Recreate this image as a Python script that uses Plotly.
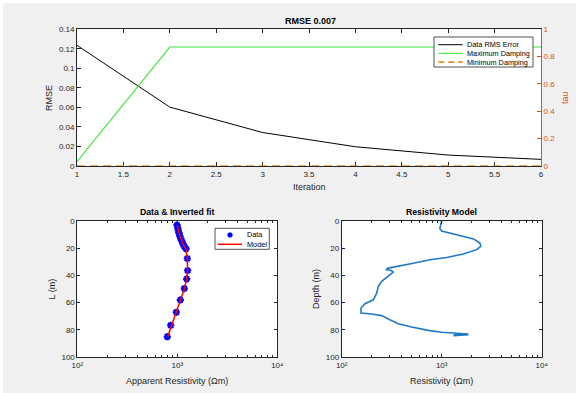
import plotly.graph_objects as go

W, H = 578, 393

# ---------------- data ----------------
iteration = [1, 2, 3, 4, 5, 6]
rmse = [0.1236, 0.0603, 0.0343, 0.0197, 0.0112, 0.0068]
max_damping = [0.032, 0.870, 0.870, 0.870, 0.870, 0.870]
min_damping = [0, 0, 0, 0, 0, 0]

L_data = [3.2, 5.1, 7.1, 9.0, 11.0, 13.0, 14.9, 16.9, 18.9, 20.6,
          27.7, 36.5, 42.6, 49.7, 58.0, 67.1, 76.6, 84.9]
rho_data = [993, 1010, 1023, 1040, 1057, 1081, 1107, 1140, 1175, 1222,
            1259, 1270, 1242, 1175, 1072, 977, 859, 794]
rho_fit = [996, 1008, 1025, 1042, 1060, 1083, 1108, 1138, 1172, 1215,
           1262, 1265, 1240, 1180, 1075, 980, 865, 800]

depth_model = [0, 5.6, 7.5, 10.4, 13.3, 16.4, 18.8, 21.2, 24.4, 26.9, 28.6,
               31.1, 33.5, 34.7, 35.9, 36.3, 37.6, 40.8, 44.4, 48.1, 53.0,
               57.9, 60.8, 63.9, 67.6, 68.3, 69.5, 72.0, 75.4, 77.8, 80.3,
               81.7, 82.2, 82.9, 83.2, 83.5, 84.2]
rho_model = [1000, 958, 1000, 1413, 2080, 2410, 2455, 2239, 1644, 1122, 764,
             520, 355, 292, 277, 310, 328, 292, 251, 232, 224,
             207, 171, 156, 156, 199, 251, 292, 368, 501, 733,
             1000, 1349, 1847, 1320, 1850, 1306]

log_ticks = [100, 1000, 10000]
log_tick_text = ["10\u00b2", "10\u00b3", "10\u2074"]
log_minor = [m * d for d in (100, 1000) for m in range(2, 10)]

# ---------------- helpers ----------------
def fx(px):
    return px / W

def fy(py):
    return 1 - py / H

FONT = "Liberation Sans, Arial, Helvetica, DejaVu Sans, sans-serif"
AX = "#262626"
ORANGE_AX = "#D95319"
GREEN = "#3de83d"
ORANGE_LN = "#EE8A2A"
BLUE = "#0000FF"
MBLUE = "#1f78c8"

fig = go.Figure()

# top panel
fig.add_trace(go.Scatter(x=iteration, y=rmse, xaxis="x", yaxis="y", mode="lines",
                         line=dict(color="black", width=1), showlegend=False))
fig.add_trace(go.Scatter(x=iteration, y=max_damping, xaxis="x", yaxis="y2", mode="lines",
                         line=dict(color=GREEN, width=1.1), showlegend=False))
fig.add_trace(go.Scatter(x=iteration, y=min_damping, xaxis="x", yaxis="y2", mode="lines",
                         cliponaxis=False,
                         line=dict(color=ORANGE_LN, width=1.6, dash="8px,5px"), showlegend=False))

# bottom-left
fig.add_trace(go.Scatter(x=rho_data, y=L_data, xaxis="x3", yaxis="y3", mode="markers",
                         marker=dict(symbol="asterisk-open", size=6, color=BLUE,
                                     line=dict(color=BLUE, width=2)), showlegend=False))
fig.add_trace(go.Scatter(x=rho_fit, y=L_data, xaxis="x3", yaxis="y3", mode="lines",
                         line=dict(color="#ff0000", width=1.5), showlegend=False))

# bottom-right
fig.add_trace(go.Scatter(x=rho_model, y=depth_model, xaxis="x4", yaxis="y4", mode="lines",
                         line=dict(color=MBLUE, width=1.6), showlegend=False))

tickfont = dict(family=FONT, size=8, color=AX)
common = dict(showgrid=False, zeroline=False, showline=True, linecolor=AX, linewidth=0.8,
              ticks="inside", ticklen=4, tickcolor=AX, tickwidth=0.8, tickfont=tickfont,
              automargin=False)

log_common = dict(common, type="log", range=[2, 4], tickmode="array", tickvals=log_ticks,
                  ticktext=log_tick_text, mirror="allticks", ticklen=3,
                  minor=dict(ticks="inside", ticklen=2, tickcolor=AX, tickwidth=0.6,
                             tickmode="array", tickvals=log_minor, showgrid=False))

depth_common = dict(common, range=[100, 0], tickmode="linear", tick0=0, dtick=20,
                    mirror="allticks", ticklen=3)

fig.update_layout(
    width=W, height=H,
    margin=dict(l=0, r=0, t=0, b=0, pad=0, autoexpand=False),
    paper_bgcolor="#f0f0f0",
    plot_bgcolor="white",
    font=dict(family=FONT, size=8, color=AX),
    showlegend=False,
    xaxis=dict(common, domain=[fx(77), fx(541)], anchor="y", range=[1, 6],
               tickmode="linear", tick0=1, dtick=0.5, mirror="ticks", layer="below traces"),
    yaxis=dict(common, domain=[fy(166), fy(29.3)], anchor="x", range=[0, 0.14],
               tickmode="linear", tick0=0, dtick=0.02),
    yaxis2=dict(common, overlaying="y", side="right", anchor="x", range=[0, 1],
                tickmode="linear", tick0=0, dtick=0.2, linecolor=ORANGE_AX,
                tickcolor=ORANGE_AX, tickfont=dict(family=FONT, size=8, color=ORANGE_AX)),
    xaxis3=dict(log_common, domain=[fx(77.3), fx(277.3)], anchor="y3"),
    yaxis3=dict(depth_common, domain=[fy(357.3), fy(220.7)], anchor="x3"),
    xaxis4=dict(log_common, domain=[fx(341.7), fx(541.7)], anchor="y4"),
    yaxis4=dict(depth_common, domain=[fy(357.3), fy(220.7)], anchor="x4"),
)

ann = []
def text(s, px, py, size=9, bold=False, color=AX, angle=0, xanchor="center"):
    if bold:
        s = "<b>" + s + "</b>"
    ann.append(dict(text=s, x=fx(px), y=fy(py), xref="paper", yref="paper",
                    showarrow=False, xanchor=xanchor, yanchor="middle", textangle=angle,
                    font=dict(family=FONT, size=size, color=color)))

# titles / labels
text("RMSE 0.007", 310, 21, size=9, bold=True, color="black")
text("Iteration", 309, 186.5, size=9)
text("RMSE", 49, 98, size=9, angle=-90)
text("tau", 565, 98, size=9, angle=-90, color=ORANGE_AX)

text("Data &amp; Inverted fit", 177.3, 212.3, size=8.7, bold=True, color="black")
text("Apparent Resistivity (\u03a9m)", 177, 380.7, size=9)
text("L (m)", 51.5, 289, size=9, angle=-90)

text("Resistivity Model", 441.7, 212.3, size=8.7, bold=True, color="black")
text("Resistivity (\u03a9m)", 441, 380.7, size=9)
text("Depth (m)", 316, 289, size=9, angle=-90)

shapes = []
# thin white frame around the grey panel
for x0, y0, x1, y1 in [(0, 0, 3, H), (0, 0, W, 3), (576, 0, W, H)]:
    shapes.append(dict(type="rect", xref="paper", yref="paper", x0=fx(x0), x1=fx(x1),
                       y0=fy(y1), y1=fy(y0), fillcolor="white", line=dict(width=0)))

# top legend
shapes.append(dict(type="rect", xref="paper", yref="paper", x0=fx(434), x1=fx(533),
                   y0=fy(67), y1=fy(37), fillcolor="white", line=dict(color=AX, width=0.8)))
leg_rows = [("Data RMS Error", "black", None, 1), ("Maximum Damping", GREEN, None, 1.1),
            ("Minimum Damping", ORANGE_LN, "6px,4px", 1.6)]
for i, (lab, col, dash, wd) in enumerate(leg_rows):
    yy = 44.7 + i * 8.7
    ln = dict(color=col, width=wd)
    if dash:
        ln["dash"] = dash
    shapes.append(dict(type="line", xref="paper", yref="paper", x0=fx(438.3), x1=fx(462.7),
                       y0=fy(yy), y1=fy(yy), line=ln))
    text(lab, 465, yy, size=7.3, xanchor="left", color="black")

# bottom-left legend
shapes.append(dict(type="rect", xref="paper", yref="paper", x0=fx(215), x1=fx(269.3),
                   y0=fy(249.3), y1=fy(228.3), fillcolor="white", line=dict(color=AX, width=0.8)))
cx, cy, r = 230, 235, 2.6
path = (f"M {fx(cx-r)} {fy(cy)} L {fx(cx+r)} {fy(cy)} "
        f"M {fx(cx)} {fy(cy-r)} L {fx(cx)} {fy(cy+r)} "
        f"M {fx(cx-r*0.7)} {fy(cy-r*0.7)} L {fx(cx+r*0.7)} {fy(cy+r*0.7)} "
        f"M {fx(cx-r*0.7)} {fy(cy+r*0.7)} L {fx(cx+r*0.7)} {fy(cy-r*0.7)}")
shapes.append(dict(type="path", xref="paper", yref="paper", path=path,
                   line=dict(color=BLUE, width=2)))
text("Data", 245, 235, size=7.3, xanchor="left", color="black")
shapes.append(dict(type="line", xref="paper", yref="paper", x0=fx(217.7), x1=fx(242),
                   y0=fy(244.3), y1=fy(244.3), line=dict(color="#ff0000", width=1.5)))
text("Model", 245, 244.3, size=7.3, xanchor="left", color="black")

fig.update_layout(annotations=ann, shapes=shapes)

fig.write_html("out.html",
               config={"displayModeBar": False},
               post_script="document.body.style.margin='0px';document.body.style.overflow='hidden';")
